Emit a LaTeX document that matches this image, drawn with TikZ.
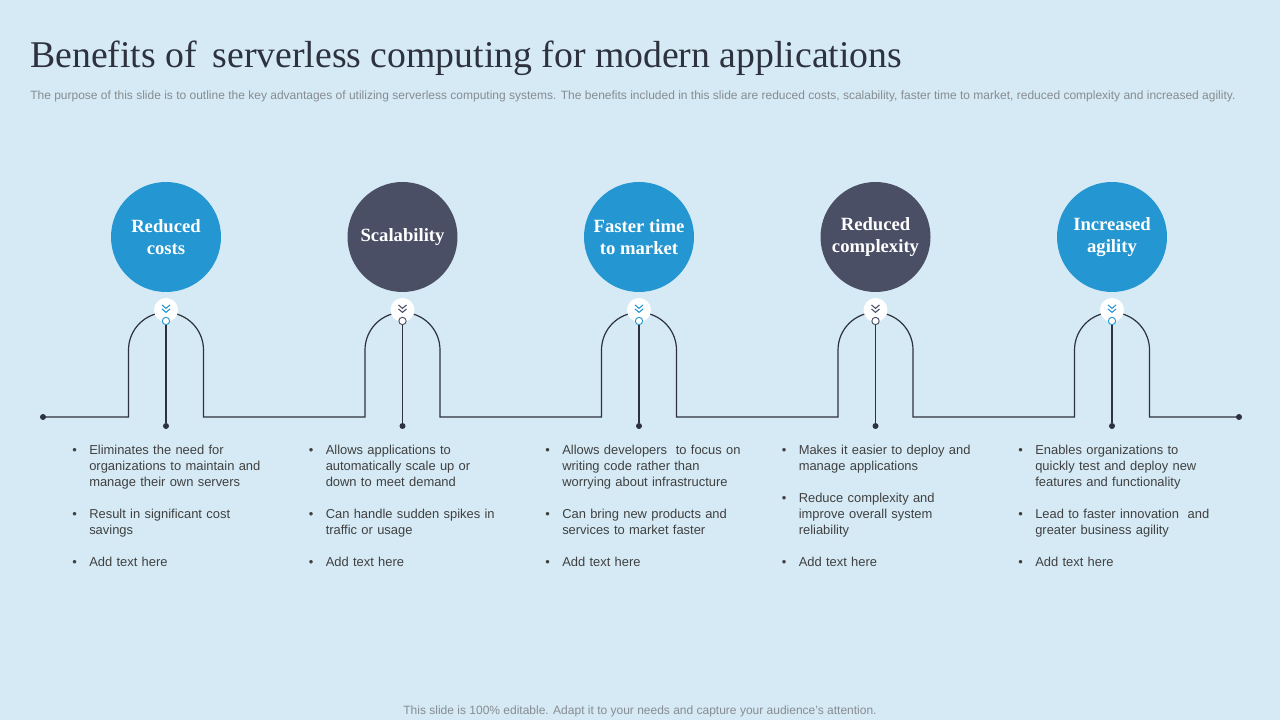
\documentclass[tikz,border=0pt]{standalone}
\usepackage{fontspec}
\setmainfont{Liberation Sans}
\newfontfamily\headfont{Liberation Serif}
\usetikzlibrary{positioning}

\definecolor{bgblue}{RGB}{213,234,245}
\definecolor{ballblue}{RGB}{36,150,210}
\definecolor{balldark}{RGB}{75,79,102}
\definecolor{linedark}{RGB}{45,50,62}
\definecolor{txtgray}{RGB}{64,64,64}
\definecolor{subgray}{RGB}{135,140,145}

% one bullet line, hanging indent
\newcommand{\bitem}[1]{\noindent\hangindent=12.75pt\hangafter=1\makebox[12.75pt][l]{\textbullet}#1\par}
\newcommand{\bgap}{\vspace{12pt}}
% two chevrons in a knob
\newcommand{\chevs}[2]{%
  \draw[#2, line width=0.8pt] ([shift={(-3pt,3.8pt)}]#1.center) -- ++(3pt,-2.6pt) -- ++(3pt,2.6pt);
  \draw[#2, line width=0.8pt] ([shift={(-3pt,0.8pt)}]#1.center) -- ++(3pt,-2.6pt) -- ++(3pt,2.6pt);}

\begin{document}
\begin{tikzpicture}[
    x = 0.75pt, y = 0.75pt,
    ball/.style   = {circle, minimum size=82.5pt, inner sep=0pt, text=white, align=center,
                     font=\headfont\bfseries\fontsize{14}{16.5}\selectfont},
    knob/.style   = {circle, fill=white, minimum size=18pt, inner sep=0pt},
    ring/.style   = {circle, draw=#1, fill=white, minimum size=5.5pt, inner sep=0pt, line width=0.7pt},
    dot/.style    = {circle, fill=linedark, minimum size=4.5pt, inner sep=0pt},
    stem/.style   = {linedark, line width=0.9pt},
    track/.style  = {linedark, line width=0.9pt},
    points/.style = {anchor=north west, inner sep=0pt, text width=165pt, align=left,
                     text=txtgray, font=\fontsize{9.7}{12}\selectfont}
  ]
% page
\fill[bgblue] (0,0) rectangle (1280,720);
\useasboundingbox (0,0) rectangle (1280,720);
% heading
\node[anchor=base west, inner sep=0pt, text=linedark, font=\headfont\fontsize{28.3}{32}\selectfont]
  (title) at (30,652) {Benefits of\, serverless computing for modern applications};
\node[anchor=base west, inner sep=0pt, text=subgray, font=\fontsize{9}{10}\selectfont]
  (sub) at (30,620) {The purpose of this slide is to outline the key advantages of utilizing serverless computing systems. The benefits included in this slide are reduced costs, scalability, faster time to market, reduced complexity and increased agility.};
\node[anchor=base, inner sep=0pt, text=subgray, font=\fontsize{9}{10}\selectfont]
  (foot) at (640,5.5) {This slide is 100\% editable. Adapt it to your needs and capture your audience's attention.};
% timeline
\coordinate (start) at (43,303);
\coordinate (end) at (1239,303);
\draw[track] (start) \foreach \c in {166,402.5,639,875.5,1112} {
    -- (\c-37.5,303) -- ++(0,67) arc[start angle=180, end angle=0, radius=37.5] -- ++(0,-67) } -- (end);
\node[dot] (s0) at (start) {};
\node[dot] (e0) at (end) {};
% circles
\node[ball, fill=ballblue] (b1) at (166,483)   {Reduced\\costs};
\node[ball, fill=balldark] (b2) at (402.5,483) {Scalability};
\node[ball, fill=ballblue] (b3) at (639,483)   {Faster time\\to market};
\node[ball, fill=balldark] (b4) at (875.5,483) {Reduced\\complexity};
\node[ball, fill=ballblue] (b5) at (1112,483)  {Increased\\agility};
% knobs
\node[knob] (k1) at (166,410) {};
\node[knob] (k2) at (402.5,410) {};
\node[knob] (k3) at (639,410) {};
\node[knob] (k4) at (875.5,410) {};
\node[knob] (k5) at (1112,410) {};
\chevs{k1}{ballblue}
\chevs{k2}{balldark}
\chevs{k3}{ballblue}
\chevs{k4}{balldark}
\chevs{k5}{ballblue}
% rings and dots
\node[ring=ballblue] (r1) at (166,399) {};
\node[ring=balldark] (r2) at (402.5,399) {};
\node[ring=ballblue] (r3) at (639,399) {};
\node[ring=balldark] (r4) at (875.5,399) {};
\node[ring=ballblue] (r5) at (1112,399) {};
\node[dot] (d1) at (166,294) {};
\node[dot] (d2) at (402.5,294) {};
\node[dot] (d3) at (639,294) {};
\node[dot] (d4) at (875.5,294) {};
\node[dot] (d5) at (1112,294) {};
\draw[stem] (r1) -- (d1);
\draw[stem] (r2) -- (d2);
\draw[stem] (r3) -- (d3);
\draw[stem] (r4) -- (d4);
\draw[stem] (r5) -- (d5);
% bullet texts
\node[points] (t1) at (72,275.5) {%
  \bitem{Eliminates the need for\newline organizations to maintain and\newline manage their own servers}\bgap
  \bitem{Result in significant cost\newline savings}\bgap
  \bitem{Add text here}};
\node[points] (t2) at (308.5,275.5) {%
  \bitem{Allows applications to\newline automatically scale up or\newline down to meet demand}\bgap
  \bitem{Can handle sudden spikes in\newline traffic or usage}\bgap
  \bitem{Add text here}};
\node[points] (t3) at (545,275.5) {%
  \bitem{Allows developers\ \ to focus on\newline writing code rather than\newline worrying about infrastructure}\bgap
  \bitem{Can bring new products and\newline services to market faster}\bgap
  \bitem{Add text here}};
\node[points] (t4) at (781.5,275.5) {%
  \bitem{Makes it easier to deploy and\newline manage applications}\bgap
  \bitem{Reduce complexity and\newline improve overall system\newline reliability}\bgap
  \bitem{Add text here}};
\node[points] (t5) at (1018,275.5) {%
  \bitem{Enables organizations to\newline quickly test and deploy new\newline features and functionality}\bgap
  \bitem{Lead to faster innovation\ \ and\newline greater business agility}\bgap
  \bitem{Add text here}};
%
\end{tikzpicture}
\end{document}
